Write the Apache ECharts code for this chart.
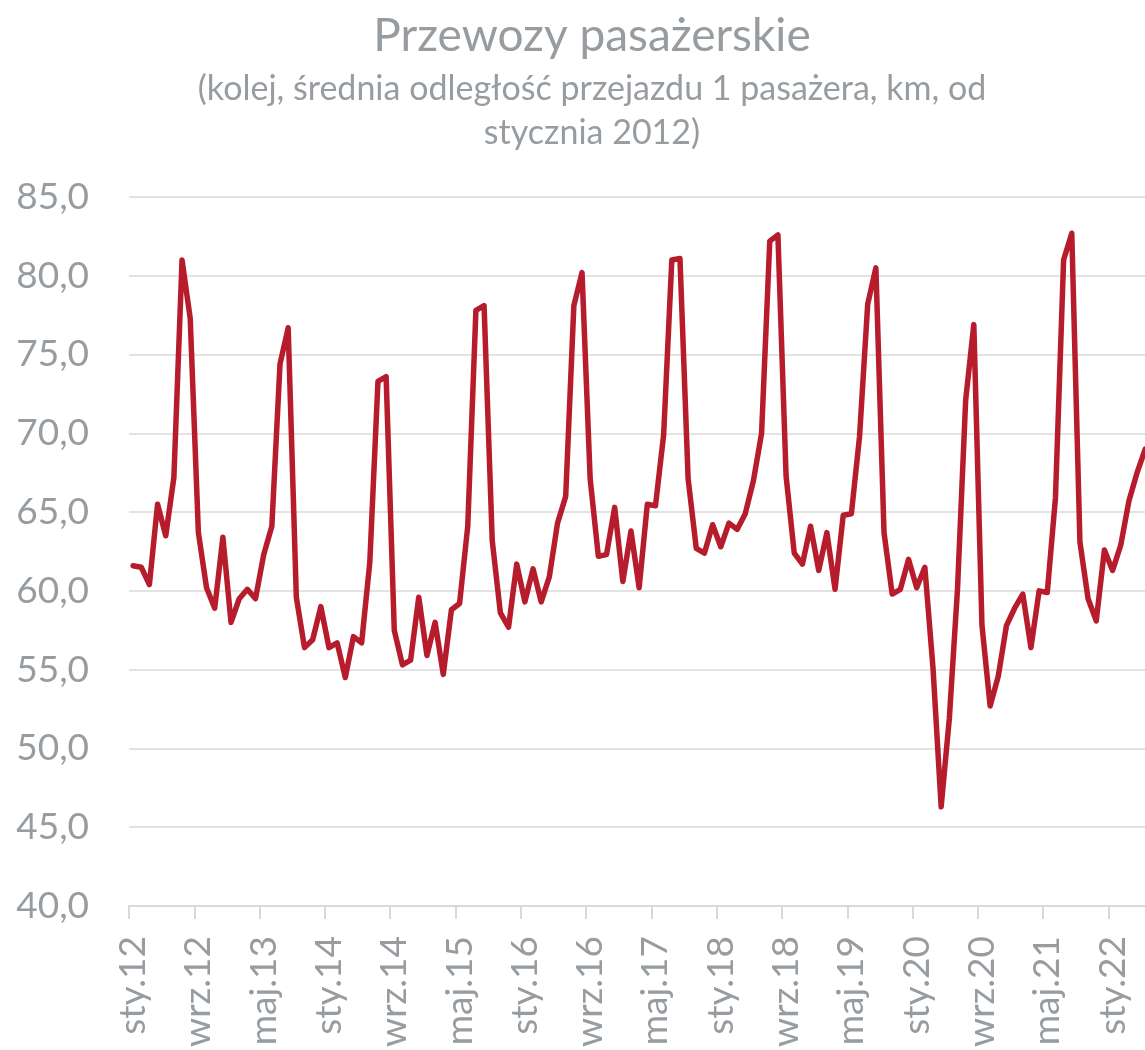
<!DOCTYPE html>
<html>
<head>
<meta charset="utf-8">
<script src="https://cdn.jsdelivr.net/npm/echarts@6/dist/echarts.min.js"></script>
<style>
html,body{margin:0;padding:0;background:#fff;}
#c{width:1145px;height:1050px;}
</style>
</head>
<body>
<div id="c"></div>
<script>
// Month abbreviations (Polish) and years covered
const monthNames = ['sty','lut','mar','kwi','maj','cze','lip','sie','wrz','paź','lis','gru'];
const years = ['12','13','14','15','16','17','18','19','20','21','22'];
const lastYearMonths = 5; // data ends in May 2022

// Average travel distance of 1 passenger (km), monthly from Jan 2012
const v2012 = [61.6, 61.5, 60.4, 65.5, 63.5, 67.2, 81.0, 77.3, 63.7, 60.2, 58.9, 63.4];
const v2013 = [58.0, 59.5, 60.1, 59.5, 62.3, 64.1, 74.4, 76.7, 59.6, 56.4, 56.9, 59.0];
const v2014 = [56.4, 56.7, 54.5, 57.1, 56.7, 61.8, 73.3, 73.6, 57.5, 55.3, 55.6, 59.6];
const v2015 = [55.9, 58.0, 54.7, 58.8, 59.2, 64.1, 77.8, 78.1, 63.2, 58.6, 57.7, 61.7];
const v2016 = [59.3, 61.4, 59.3, 60.9, 64.3, 66.0, 78.1, 80.2, 67.1, 62.2, 62.3, 65.3];
const v2017 = [60.6, 63.8, 60.2, 65.5, 65.4, 69.9, 81.0, 81.1, 67.1, 62.7, 62.4, 64.2];
const v2018 = [62.8, 64.3, 63.9, 64.9, 67.0, 70.0, 82.2, 82.6, 67.3, 62.4, 61.7, 64.1];
const v2019 = [61.3, 63.7, 60.1, 64.8, 64.9, 69.8, 78.2, 80.5, 63.7, 59.8, 60.1, 62.0];
const v2020 = [60.2, 61.5, 55.1, 46.3, 51.9, 60.1, 72.1, 76.9, 57.8, 52.7, 54.6, 57.8];
const v2021 = [58.9, 59.8, 56.4, 60.0, 59.9, 65.9, 81.0, 82.7, 63.1, 59.5, 58.1, 62.6];
const v2022 = [61.3, 62.9, 65.7, 67.5, 69.0];

const values = [].concat(v2012, v2013, v2014, v2015, v2016, v2017, v2018, v2019, v2020, v2021, v2022);

const categories = [];
years.forEach((y, yi) => {
  const n = (yi === years.length - 1) ? lastYearMonths : 12;
  for (let m = 0; m < n; m++) categories.push(monthNames[m] + '.' + y);
});

const yTicks = [40, 45, 50, 55, 60, 65, 70, 75, 80, 85];

const FONT = 'Lato';
const GRAY = '#979ca0';

const chart = echarts.init(document.getElementById('c'), null, {renderer: 'canvas'});
const catW = 8.1625;
chart.setOption({
  animation: false,
  backgroundColor: '#ffffff',
  title: [
    {
      text: 'Przewozy pasażerskie',
      left: 587, top: 8, textAlign: 'center',
      textStyle: {fontFamily: FONT, fontSize: 46, fontWeight: 'normal', color: GRAY}
    },
    {
      text: '(kolej, średnia odległość przejazdu 1 pasażera, km, od\nstycznia 2012)',
      left: 587, top: 62, textAlign: 'center',
      textStyle: {fontFamily: FONT, fontSize: 34, fontWeight: 'normal', color: GRAY, lineHeight: 44, align: 'center'}
    }
  ],
  grid: {
    left: 129, top: 197, height: 709, width: catW * values.length,
    containLabel: false, outerBoundsMode: 'none'
  },
  xAxis: {
    type: 'category',
    data: categories,
    boundaryGap: true,
    axisLine: {show: true, lineStyle: {color: '#d9d9d9', width: 2}},
    axisTick: {show: true, interval: 7, length: 13, lineStyle: {color: '#d9d9d9', width: 2}},
    axisLabel: {
      interval: 7, rotate: 90, margin: 30,
      fontFamily: FONT, fontSize: 37, color: GRAY
    },
    splitLine: {show: false}
  },
  yAxis: {
    type: 'value',
    min: yTicks[0], max: yTicks[yTicks.length - 1], interval: 5,
    axisLine: {show: false},
    axisTick: {show: false},
    axisLabel: {
      margin: 40, fontFamily: FONT, fontSize: 37, color: GRAY,
      formatter: v => v.toFixed(1).replace('.', ',')
    },
    splitLine: {lineStyle: {color: '#e3e3e3', width: 2}}
  },
  series: [{
    type: 'line',
    data: values,
    symbol: 'none',
    lineStyle: {color: '#b71c2d', width: 5.5, join: 'round', cap: 'round'},
    clip: false
  }]
});
</script>
</body>
</html>
